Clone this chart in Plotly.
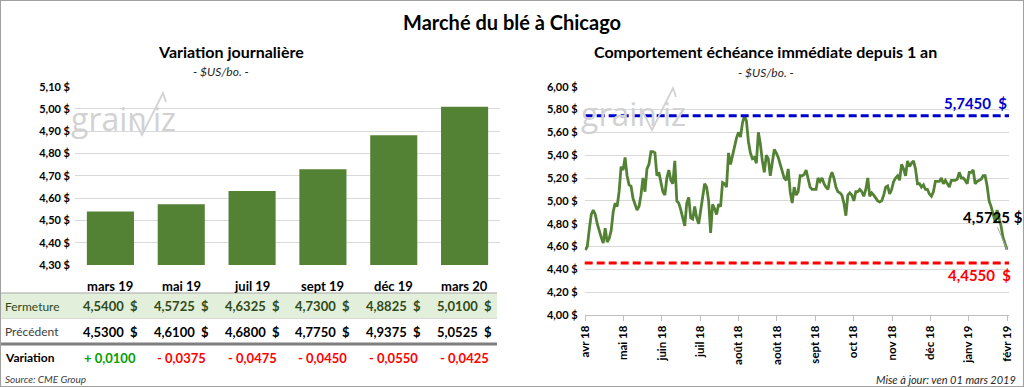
import plotly.graph_objects as go
import numpy as np

# ---------------- data ----------------
contracts = ["mars 19", "mai 19", "juil 19", "sept 19", "déc 19", "mars 20"]
closing = [4.5400, 4.5725, 4.6325, 4.7300, 4.8825, 5.0100]
previous = [4.5300, 4.6100, 4.6800, 4.7750, 4.9375, 5.0525]

month_labels = ["avr 18", "mai 18", "juin 18", "juil 18", "août 18", "août 18",
                "sept 18", "oct 18", "nov 18", "déc 18", "janv 19", "févr 19"]

front_month = [
    # avr -> mai
    4.57, 4.60, 4.75, 4.88, 4.92, 4.88, 4.80, 4.73, 4.68, 4.63, 4.76, 4.64, 4.67, 4.74, 4.90, 4.98, 4.95, 5.08, 5.30,
    # mai -> juin
    5.27, 5.38, 5.22, 5.14, 5.13, 5.02, 4.97, 4.92, 4.95, 5.05, 5.20, 5.08, 5.28, 5.32, 5.43, 5.43, 5.42, 5.22, 5.25,
    # juin -> juil
    5.15, 5.08, 5.05, 5.20, 5.27, 5.18, 5.15, 5.35, 5.00, 4.98, 4.92, 4.85, 4.78, 4.98, 5.03, 4.85, 4.84, 4.95, 4.85,
    # juil -> août
    4.80, 4.92, 5.05, 5.15, 5.12, 5.00, 4.72, 4.97, 4.93, 4.88, 4.97, 4.95, 5.16, 5.15, 5.12, 5.42, 5.32, 5.40, 5.45,
    # août -> août
    5.55, 5.60, 5.56, 5.68, 5.745, 5.70, 5.52, 5.42, 5.37, 5.38, 5.33, 5.60, 5.50, 5.35, 5.25, 5.40, 5.37, 5.22, 5.35,
    # août -> sept
    5.45, 5.42, 5.38, 5.32, 5.25, 5.20, 5.18, 5.28, 5.08, 4.98, 5.12, 5.05, 5.08, 5.22, 5.22, 5.23, 5.27, 5.18, 5.12, 5.10,
    # sept -> oct
    5.10, 5.10, 5.20, 5.17, 5.20, 5.15, 5.12, 5.10, 5.20, 5.25, 5.20, 5.12, 5.08, 5.07, 5.05, 4.98, 4.87, 5.05, 5.07,
    # oct -> nov
    5.05, 5.00, 5.08, 5.08, 5.10, 5.08, 5.04, 5.10, 5.20, 5.04, 5.07, 5.05, 5.02, 5.00, 4.99, 5.00, 5.05, 5.12, 5.13,
    # nov -> déc
    5.06, 5.10, 5.17, 5.20, 5.22, 5.18, 5.32, 5.28, 5.22, 5.35, 5.30, 5.33, 5.35, 5.28, 5.15, 5.15, 5.12, 5.14, 5.10,
    # déc -> janv
    5.10, 5.06, 5.04, 5.08, 5.17, 5.17, 5.17, 5.20, 5.15, 5.18, 5.15, 5.12, 5.18, 5.18, 5.18, 5.19, 5.25, 5.20, 5.20, 5.18,
    # janv -> févr
    5.15, 5.25, 5.25, 5.27, 5.15, 5.17, 5.18, 5.19, 5.22, 5.22, 5.13, 5.00, 4.95, 4.88, 4.82, 4.92, 4.85, 4.78, 4.68, 4.62, 4.5725,
]

year_high = 5.7450
year_low = 4.4550

# ---------------- helpers ----------------
W, H = 1024, 387
FONT = "Lato"
GREEN = "#548235"


def X(px):
    return px / W


def Y(py):
    return 1 - py / H


def fr(v, dec=4):
    return f"{v:.{dec}f}".replace(".", ",")


fig = go.Figure()

# ---------------- left: bar chart ----------------
fig.add_trace(go.Bar(x=contracts, y=closing, marker=dict(color=GREEN, line=dict(width=0)),
                     xaxis="x", yaxis="y", showlegend=False, hoverinfo="x+y"))

# ---------------- right: line chart ----------------
N = len(front_month)
idx = list(range(N))
fig.add_trace(go.Scatter(x=idx, y=front_month, mode="lines",
                         line=dict(color=GREEN, width=2.8),
                         xaxis="x2", yaxis="y2", showlegend=False))

tickpos = list(np.linspace(0, N - 1, len(month_labels)))

axis_font = dict(family=FONT, size=11, color="#000000", weight="bold")

fig.update_layout(
    template="none",
    width=W, height=H,
    margin=dict(l=0, r=0, t=0, b=0, pad=0),
    autosize=False,
    paper_bgcolor="white", plot_bgcolor="white",
    separators=", ",
    font=dict(family=FONT, color="#000000"),
    bargap=0.335,
    xaxis=dict(domain=[X(75), X(500)], showticklabels=False, showgrid=False, automargin=False,
               zeroline=False, showline=False, ticks="", fixedrange=True),
    yaxis=dict(domain=[Y(265), Y(86.7)], range=[4.30, 5.10], dtick=0.1, automargin=False,
               tickformat=".2f", ticksuffix=" $", gridcolor="#D9D9D9", gridwidth=1, ticks="",
               zeroline=False, showline=False, tickfont=axis_font, ticklabelstandoff=4),
    xaxis2=dict(domain=[X(584.7), X(1009)], range=[-0.3, N], tickmode="array", automargin=False,
                tickvals=tickpos, ticktext=month_labels, tickangle=-90,
                ticks="outside", ticklen=5, tickcolor="#BFBFBF", tickwidth=1,
                showline=True, linecolor="#BFBFBF", linewidth=1,
                showgrid=False, zeroline=False, tickfont=dict(axis_font, size=11.5), anchor="y2"),
    yaxis2=dict(domain=[Y(315), Y(86.7)], range=[4.0, 6.0], dtick=0.2, automargin=False,
                tickformat=".2f", ticksuffix=" $", gridcolor="#D9D9D9", gridwidth=1, ticks="",
                zeroline=False, showline=False, tickfont=axis_font, anchor="x2",
                ticklabelstandoff=6),
)

shapes = []
annotations = []

# high / low dashed lines
shapes.append(dict(type="line", xref="x2 domain", x0=0, x1=1, yref="y2", y0=year_high, y1=year_high,
                   line=dict(color="#0000CC", width=3, dash="8px,4px")))
shapes.append(dict(type="line", xref="x2 domain", x0=0, x1=1, yref="y2", y0=year_low, y1=year_low,
                   line=dict(color="#FF0000", width=3, dash="8px,4px")))

annotations.append(dict(xref="paper", yref="paper", x=X(1009), y=Y(103), xanchor="right", yanchor="middle",
                        text=fr(year_high) + "  $", showarrow=False,
                        font=dict(family=FONT, size=15, color="#0000CC", weight="bold")))
annotations.append(dict(xref="paper", yref="paper", x=X(1013), y=Y(275), xanchor="right", yanchor="middle",
                        text=fr(year_low) + "  $", showarrow=False,
                        font=dict(family=FONT, size=15, color="#FF0000", weight="bold")))
annotations.append(dict(xref="x2", yref="y2", x=N - 1, y=front_month[-1], ax=-14, ay=-33,
                        text=fr(front_month[-1]) + " $", showarrow=True, arrowhead=0,
                        arrowwidth=1, arrowcolor="#A6A6A6", standoff=0,
                        font=dict(family=FONT, size=15, color="#000000", weight="bold")))

# titles
annotations.append(dict(xref="paper", yref="paper", x=0.5, y=Y(22), xanchor="center", yanchor="middle",
                        text="Marché du blé à Chicago", showarrow=False,
                        font=dict(family=FONT, size=20, color="#000000", weight="bold")))
annotations.append(dict(xref="paper", yref="paper", x=X(231), y=Y(51), xanchor="center", yanchor="middle",
                        text="Variation journalière", showarrow=False,
                        font=dict(family=FONT, size=16, color="#000000", weight="bold")))
annotations.append(dict(xref="paper", yref="paper", x=X(221), y=Y(71), xanchor="center", yanchor="middle",
                        text="<i>- $US/bo. -</i>", showarrow=False,
                        font=dict(family=FONT, size=12, color="#262626")))
annotations.append(dict(xref="paper", yref="paper", x=X(765), y=Y(51), xanchor="center", yanchor="middle",
                        text="Comportement échéance immédiate depuis 1 an", showarrow=False,
                        font=dict(family=FONT, size=16, color="#000000", weight="bold")))
annotations.append(dict(xref="paper", yref="paper", x=X(766), y=Y(72), xanchor="center", yanchor="middle",
                        text="<i>- $US/bo. -</i>", showarrow=False,
                        font=dict(family=FONT, size=12, color="#262626")))

# ---------------- table under the bar chart ----------------
TBL_R = 497
shapes.append(dict(type="rect", xref="paper", yref="paper", x0=0, x1=X(TBL_R), y0=Y(318), y1=Y(293),
                   fillcolor="#E2EFDA", line=dict(width=0), layer="below"))
shapes.append(dict(type="line", xref="paper", yref="paper", x0=0, x1=X(TBL_R), y0=Y(293), y1=Y(293),
                   line=dict(color="#A6A6A6", width=1)))
shapes.append(dict(type="line", xref="paper", yref="paper", x0=0, x1=X(TBL_R), y0=Y(318.5), y1=Y(318.5),
                   line=dict(color="#D9D9D9", width=1)))
shapes.append(dict(type="line", xref="paper", yref="paper", x0=0, x1=X(TBL_R), y0=Y(344), y1=Y(344),
                   line=dict(color="#7F7F7F", width=3)))

row_y = {"head": 286, "close": 306, "prev": 331.5, "var": 357.5}
annotations.append(dict(xref="paper", yref="paper", x=X(3), y=Y(row_y["close"]), xanchor="left", yanchor="middle",
                        text="Fermeture", showarrow=False,
                        font=dict(family=FONT, size=12, color="#2F4A1A")))
annotations.append(dict(xref="paper", yref="paper", x=X(3), y=Y(row_y["prev"]), xanchor="left", yanchor="middle",
                        text="Précédent", showarrow=False,
                        font=dict(family=FONT, size=12, color="#404040")))
annotations.append(dict(xref="paper", yref="paper", x=X(3), y=Y(row_y["var"]), xanchor="left", yanchor="middle",
                        text="Variation", showarrow=False,
                        font=dict(family=FONT, size=12, color="#000000", weight="bold")))

for c, cl, pv in zip(contracts, closing, previous):
    annotations.append(dict(xref="x", yref="paper", x=c, y=Y(row_y["head"]), xanchor="center", yanchor="middle",
                            text=c, showarrow=False,
                            font=dict(family=FONT, size=13, color="#000000", weight="bold")))
    annotations.append(dict(xref="x", yref="paper", x=c, y=Y(row_y["close"]), xanchor="center", yanchor="middle",
                            text=fr(cl) + "  $", showarrow=False,
                            font=dict(family=FONT, size=13, color="#2F4A1A", weight="bold")))
    annotations.append(dict(xref="x", yref="paper", x=c, y=Y(row_y["prev"]), xanchor="center", yanchor="middle",
                            text=fr(pv) + "  $", showarrow=False,
                            font=dict(family=FONT, size=13, color="#000000", weight="bold")))
    d = round(cl - pv, 4)
    txt = ("+ " if d >= 0 else "- ") + fr(abs(d))
    annotations.append(dict(xref="x", yref="paper", x=c, y=Y(row_y["var"]), xanchor="center", yanchor="middle",
                            text=txt, showarrow=False,
                            font=dict(family=FONT, size=13, color="#00A000" if d >= 0 else "#FF0000",
                                      weight="bold")))

# footers
annotations.append(dict(xref="paper", yref="paper", x=X(3), y=Y(379), xanchor="left", yanchor="middle",
                        text="<i>Source: CME Group</i>", showarrow=False,
                        font=dict(family=FONT, size=10, color="#404040")))
annotations.append(dict(xref="paper", yref="paper", x=X(1018), y=Y(379), xanchor="right", yanchor="middle",
                        text="<i>Mise à jour: ven 01 mars 2019</i>", showarrow=False,
                        font=dict(family=FONT, size=11, color="#262626")))


# ---------------- watermark logos ----------------
def watermark(x0, y0):
    # x0: left of "grain", y0: baseline
    annotations.append(dict(xref="paper", yref="paper", x=X(x0 - 2), y=Y(y0 + 7), xanchor="left", yanchor="bottom",
                            text="grain", showarrow=False,
                            font=dict(family="Open Sans", size=32, color="#D2D2D2")))
    annotations.append(dict(xref="paper", yref="paper", x=X(x0 + 80), y=Y(y0 + 7), xanchor="left", yanchor="bottom",
                            text="iz", showarrow=False,
                            font=dict(family="Open Sans", size=32, color="#D2D2D2")))
    path = (f"M {X(x0 + 62)} {Y(y0 - 18)} L {X(x0 + 71)} {Y(y0)} L {X(x0 + 92)} {Y(y0 - 42)} "
            f"L {X(x0 + 95)} {Y(y0 - 33)}")
    shapes.append(dict(type="path", xref="paper", yref="paper", path=path,
                       line=dict(color="#D2D2D2", width=1.8), layer="above"))


watermark(71, 135)
watermark(581, 130)

# outer frame
shapes.append(dict(type="rect", xref="paper", yref="paper", x0=0, x1=1, y0=0, y1=1,
                   line=dict(color="#A0A0A0", width=2)))

fig.update_layout(shapes=shapes, annotations=annotations)
fig.write_html("out.html",
               config={"displayModeBar": False},
               post_script="document.body.style.margin='0';document.body.style.padding='0';"
                           "document.body.style.overflow='hidden';")
